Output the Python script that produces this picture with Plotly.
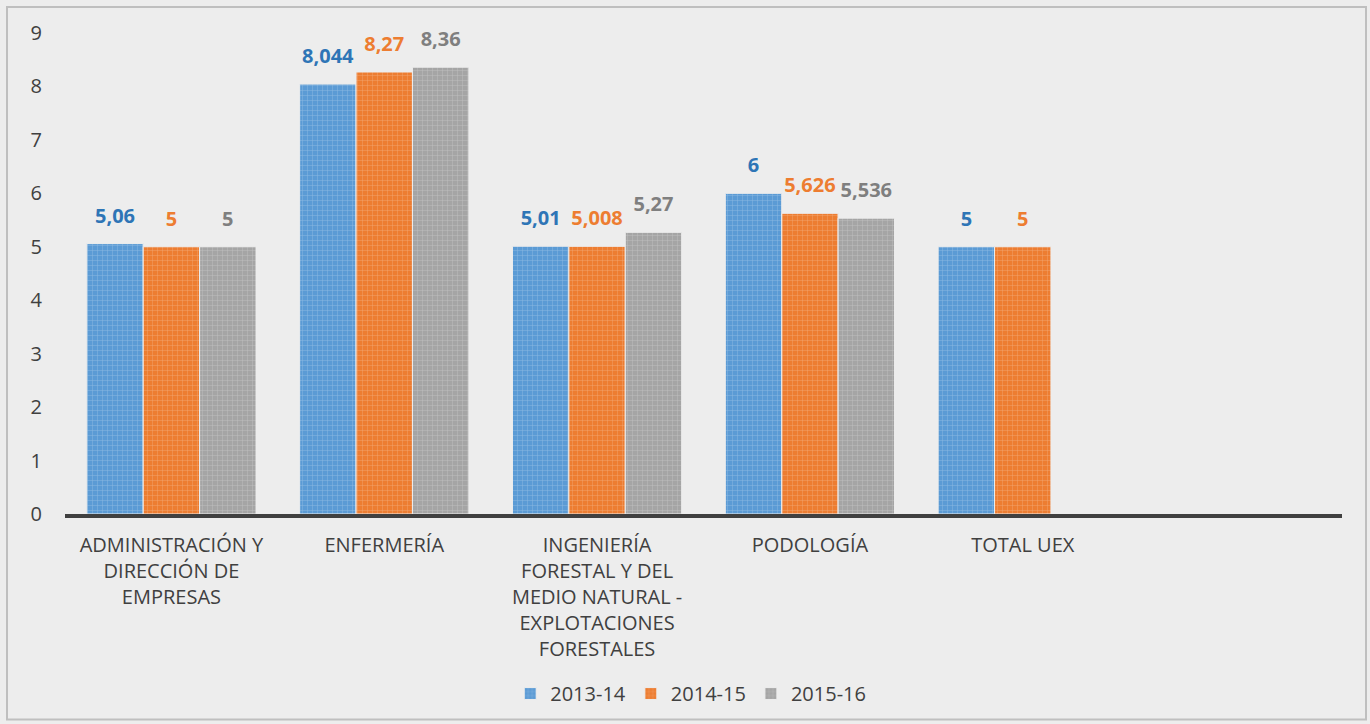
import plotly.graph_objects as go

categories = [
    "ADMINISTRACIÓN Y<br>DIRECCIÓN DE<br>EMPRESAS",
    "ENFERMERÍA",
    "INGENIERÍA<br>FORESTAL Y DEL<br>MEDIO NATURAL -<br>EXPLOTACIONES<br>FORESTALES",
    "PODOLOGÍA",
    "TOTAL UEX",
    " ",
]
series_names = ["2013-14", "2014-15", "2015-16"]
v2013 = [5.06, 8.044, 5.01, 6, 5, None]
v2014 = [5, 8.27, 5.008, 5.626, 5, None]
v2015 = [5, 8.36, 5.27, 5.536, None, None]
y_ticks = [0, 1, 2, 3, 4, 5, 6, 7, 8, 9]

bar_colors = ["#5b9bd5", "#ed7d31", "#a5a5a5"]
label_colors = ["#2e75b6", "#ed7d31", "#7f7f7f"]

def fmt(v):
    return "" if v is None else f"{v:g}".replace(".", ",")

GAP = 0.205
fig = go.Figure()
for i, (name, vals, bc) in enumerate(zip(series_names, [v2013, v2014, v2015], bar_colors)):
    fig.add_trace(go.Bar(
        x=categories, y=vals, name=name, offsetgroup=str(i),
        marker=dict(color=bc, line=dict(color="#ededed", width=1),
                    pattern=dict(shape="+", size=5, fgcolor="#ffffff", fgopacity=0.35, solidity=0.15)),
    ))
for i, (name, vals, lc) in enumerate(zip(series_names, [v2013, v2014, v2015], label_colors)):
    fig.add_trace(go.Scatter(
        x=categories, y=vals, name=name, offsetgroup=str(i), mode="text+markers",
        marker=dict(size=24, opacity=0), showlegend=False, hoverinfo="skip",
        text=[fmt(v) for v in vals], textposition="top center", cliponaxis=False,
        textfont=dict(family="Open Sans", size=20, color=lc, weight="bold"),
    ))

fig.update_layout(
    width=1370, height=724,
    margin=dict(l=65, r=28, t=33, b=209),
    paper_bgcolor="#ededed", plot_bgcolor="#ededed",
    barmode="group", bargap=GAP, bargroupgap=0.0,
    scattermode="group", scattergap=GAP,
    font=dict(family="Open Sans", size=20, color="#404040"),
    legend=dict(orientation="h", x=0.49, xanchor="center", y=-0.33, yanchor="top",
                font=dict(size=20, color="#404040"), itemwidth=30, traceorder="normal"),
    showlegend=True,
)
fig.update_xaxes(showline=True, linewidth=4, linecolor="#404040", ticks="",
                 tickfont=dict(size=20, color="#404040"), showgrid=False, ticklabelstandoff=10)
fig.update_yaxes(range=[0, 9], tickvals=y_ticks, showgrid=False, zeroline=False, showline=False,
                 tickfont=dict(size=20, color="#404040"), ticklabelstandoff=22)
fig.add_shape(type="rect", xref="paper", yref="paper",
              x0=(7 - 65) / 1277, x1=(1366 - 65) / 1277,
              y0=(515 - 721) / 482, y1=(515 - 7) / 482,
              line=dict(color="#bfbfbf", width=2), fillcolor="rgba(0,0,0,0)", layer="below")
fig.write_html("out.html")
